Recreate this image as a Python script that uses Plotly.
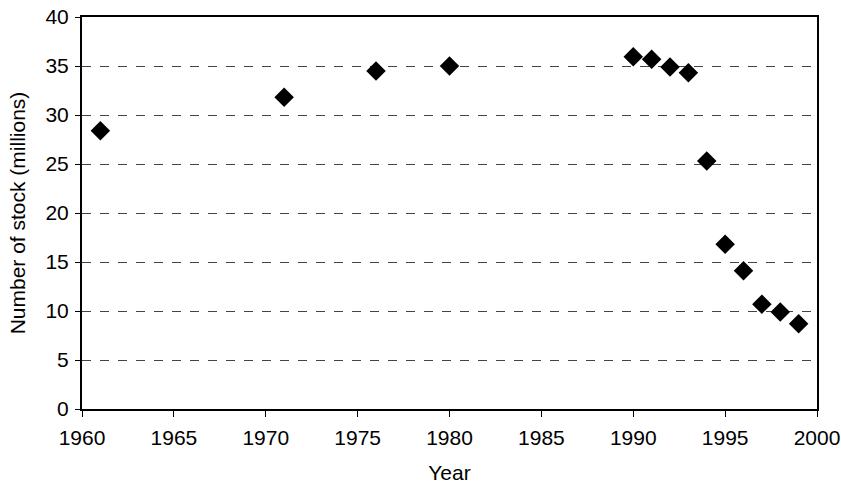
import plotly.graph_objects as go

years = [1961, 1971, 1976, 1980, 1990, 1991, 1992, 1993, 1994, 1995, 1996, 1997, 1998, 1999]
stock = [28.4, 31.8, 34.5, 35.0, 35.95, 35.7, 34.9, 34.3, 25.3, 16.8, 14.1, 10.7, 9.9, 8.7]

fig = go.Figure()
fig.add_trace(go.Scatter(
    x=years, y=stock, mode="markers",
    marker=dict(symbol="diamond", size=15, color="black"),
    showlegend=False,
))

font = dict(family="Liberation Sans, Arial, sans-serif", color="black", size=21)
fig.update_layout(
    width=841, height=484,
    margin=dict(l=82, r=24, t=17, b=75),
    plot_bgcolor="white", paper_bgcolor="white",
    font=font,
    xaxis=dict(
        range=[1960, 2000], tickmode="array", tickvals=list(range(1960, 2001, 5)),
        showgrid=False, zeroline=False, showline=True, linecolor="black", linewidth=2,
        mirror=True, ticks="outside", ticklen=6, tickcolor="black", tickfont=font,
        ticklabelstandoff=3, automargin=False, ticklabeloverflow="allow",
        title=dict(text="Year", standoff=23, font=font),
    ),
    yaxis=dict(
        range=[0, 40], tickmode="array", tickvals=list(range(0, 41, 5)),
        showgrid=True, gridcolor="#444", griddash="dash", gridwidth=1,
        zeroline=False, showline=True, linecolor="black", linewidth=2,
        mirror=True, ticks="outside", ticklen=5, tickcolor="black", tickfont=font,
        ticklabelstandoff=2, automargin=False, ticklabeloverflow="allow",
        title=dict(text="Number of stock (millions)", standoff=14, font=font),
    ),
)
fig.write_html(
    "out.html",
    config={"displayModeBar": False},
    post_script="document.body.style.margin='0';document.body.style.overflow='hidden';",
)
